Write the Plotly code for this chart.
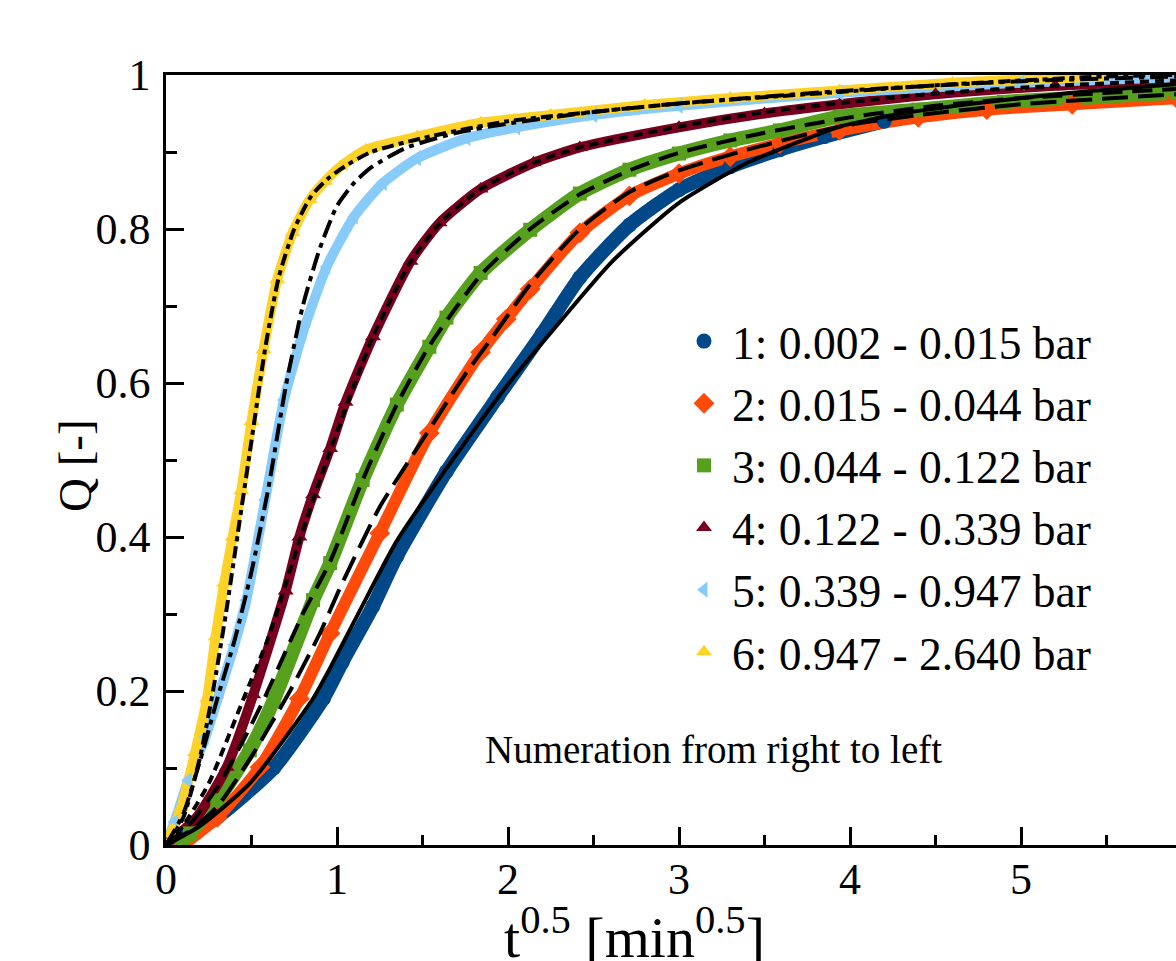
import plotly.graph_objects as go

# ---------------- data ----------------
labels = ["1: 0.002 - 0.015 bar", "2: 0.015 - 0.044 bar", "3: 0.044 - 0.122 bar",
          "4: 0.122 - 0.339 bar", "5: 0.339 - 0.947 bar", "6: 0.947 - 2.640 bar"]

# measured data, series 1..6
X1 = [0.00, 0.10, 0.30, 0.63, 0.92, 1.03, 1.21, 1.35, 1.64, 1.94, 2.20, 2.42, 2.71, 3.00, 3.30, 3.59, 3.85, 4.20]
Q1 = [0.000, 0.010, 0.036, 0.100, 0.190, 0.237, 0.310, 0.375, 0.485, 0.582, 0.664, 0.737, 0.805, 0.851, 0.881, 0.903, 0.920, 0.940]

X2 = [0.10, 0.30, 0.55, 0.78, 0.96, 1.25, 1.54, 1.84, 1.99, 2.13, 2.42, 2.71, 3.00, 3.30, 3.59, 3.94, 4.40, 4.80, 5.30, 5.91]
Q2 = [0.000, 0.036, 0.101, 0.190, 0.275, 0.405, 0.535, 0.640, 0.683, 0.722, 0.795, 0.843, 0.872, 0.894, 0.911, 0.928, 0.945, 0.955, 0.962, 0.970]

X3 = [0.10, 0.14, 0.30, 0.49, 0.63, 0.86, 0.96, 1.15, 1.35, 1.54, 1.64, 1.84, 2.13, 2.42, 2.71, 3.00, 3.30, 3.59, 3.94, 4.40, 4.90, 5.40, 5.91]
Q3 = [0.000, 0.015, 0.058, 0.123, 0.188, 0.318, 0.366, 0.474, 0.572, 0.647, 0.685, 0.743, 0.799, 0.846, 0.877, 0.898, 0.915, 0.928, 0.946, 0.955, 0.965, 0.971, 0.977]

X4 = [0.00, 0.18, 0.355, 0.51, 0.70, 0.78, 0.86, 0.96, 1.05, 1.21, 1.43, 1.60, 1.84, 2.15, 2.42, 3.00, 3.50, 3.94, 4.50, 5.20, 5.91]
Q4 = [0.000, 0.036, 0.101, 0.195, 0.330, 0.400, 0.455, 0.515, 0.575, 0.660, 0.758, 0.808, 0.852, 0.886, 0.906, 0.932, 0.950, 0.962, 0.975, 0.986, 0.993]

X5 = [0.00, 0.05, 0.13, 0.23, 0.316, 0.40, 0.47, 0.58, 0.69, 0.80, 0.94, 1.10, 1.27, 1.47, 1.76, 2.05, 2.50, 3.00, 3.94, 5.00, 5.91]
Q5 = [0.000, 0.030, 0.084, 0.140, 0.200, 0.260, 0.318, 0.448, 0.578, 0.665, 0.751, 0.816, 0.860, 0.892, 0.918, 0.932, 0.948, 0.960, 0.977, 0.990, 0.997]

X6 = [0.00, 0.04, 0.09, 0.17, 0.24, 0.29, 0.34, 0.39, 0.44, 0.50, 0.57, 0.65, 0.74, 0.84, 0.93, 1.02, 1.17, 1.47, 1.84, 2.25, 2.80, 3.30, 3.94, 4.60, 5.48]
Q6 = [0.000, 0.020, 0.049, 0.120, 0.190, 0.270, 0.340, 0.400, 0.460, 0.550, 0.643, 0.734, 0.795, 0.838, 0.862, 0.881, 0.903, 0.920, 0.938, 0.948, 0.961, 0.970, 0.980, 0.990, 0.998]

# model fits, series 1..6
XF1 = [0.00, 0.20, 0.49, 0.86, 0.96, 1.135, 1.35, 1.74, 2.00, 2.23, 2.61, 3.00, 3.40, 3.78, 3.94, 4.30, 4.80, 5.30, 5.91]
QF1 = [0.000, 0.025, 0.080, 0.190, 0.230, 0.305, 0.395, 0.520, 0.598, 0.660, 0.758, 0.834, 0.886, 0.920, 0.933, 0.950, 0.965, 0.977, 0.988]

XF2 = [0.00, 0.15, 0.30, 0.50, 0.725, 0.90, 1.02, 1.25, 1.50, 1.74, 1.91, 2.13, 2.42, 2.71, 3.00, 3.40, 3.94, 4.40, 5.00, 5.91]
QF2 = [0.000, 0.020, 0.050, 0.115, 0.200, 0.275, 0.335, 0.439, 0.526, 0.608, 0.660, 0.728, 0.800, 0.848, 0.876, 0.903, 0.933, 0.948, 0.962, 0.975]

XF3 = [0.00, 0.15, 0.30, 0.45, 0.57, 0.80, 0.96, 1.15, 1.35, 1.54, 1.84, 2.13, 2.42, 2.71, 3.00, 3.50, 4.00, 4.50, 5.00, 5.91]
QF3 = [0.000, 0.030, 0.075, 0.135, 0.188, 0.300, 0.368, 0.474, 0.572, 0.648, 0.740, 0.800, 0.845, 0.876, 0.899, 0.925, 0.945, 0.960, 0.970, 0.982]

XF4 = [0.00, 0.10, 0.25, 0.45, 0.60, 0.78, 0.96, 1.21, 1.43, 1.60, 1.84, 2.15, 2.42, 3.00, 3.50, 4.00, 4.50, 5.20, 5.91]
QF4 = [0.000, 0.025, 0.080, 0.188, 0.270, 0.395, 0.512, 0.660, 0.757, 0.807, 0.852, 0.886, 0.906, 0.933, 0.952, 0.965, 0.976, 0.986, 0.993]

XF5 = [0.00, 0.10, 0.20, 0.30, 0.40, 0.50, 0.60, 0.70, 0.80, 0.90, 1.00, 1.10, 1.20, 1.40, 1.70, 2.00, 2.50, 3.00, 4.00, 5.00, 5.91]
QF5 = [0.000, 0.040, 0.110, 0.190, 0.265, 0.355, 0.465, 0.595, 0.700, 0.775, 0.830, 0.860, 0.880, 0.905, 0.925, 0.937, 0.952, 0.963, 0.980, 0.992, 0.998]

XF6 = [0.00, 0.10, 0.20, 0.275, 0.35, 0.42, 0.50, 0.58, 0.66, 0.75, 0.85, 0.95, 1.05, 1.20, 1.50, 2.00, 2.50, 3.00, 3.94, 4.60, 5.48, 5.91]
QF6 = [0.000, 0.035, 0.115, 0.200, 0.300, 0.405, 0.525, 0.645, 0.738, 0.800, 0.843, 0.866, 0.882, 0.900, 0.918, 0.940, 0.952, 0.963, 0.978, 0.988, 0.998, 1.000]

x_ticks = [0, 1, 2, 3, 4, 5]
x_ticktext = ["0", "1", "2", "3", "4", "5"]
y_ticks = [0, 0.2, 0.4, 0.6, 0.8, 1.0]
y_ticktext = ["0", "0.2", "0.4", "0.6", "0.8", "1"]

# ---------------- style ----------------
colors = ["#004887", "#FF4A0A", "#57A01E", "#78001E", "#87CBFA", "#FFD228"]
symbols = ["circle", "diamond", "square", "triangle-up", "triangle-left", "triangle-up"]
band_w = [14, 12, 14, 10, 10, 10]
marker_size = [15, 16, 14, 14, 14, 14]
fit_dash = ["solid", "26px,10px", "20px,10px", "9px,6px", "18px,6px,5px,6px", "12px,5px,5px,5px"]
FONT = "Liberation Serif"

data = [(X1, Q1), (X2, Q2), (X3, Q3), (X4, Q4), (X5, Q5), (X6, Q6)]
fits = [(XF1, QF1), (XF2, QF2), (XF3, QF3), (XF4, QF4), (XF5, QF5), (XF6, QF6)]

fig = go.Figure()

# dense measurement bands
for (xs, ys), c, w in zip(data, colors, band_w):
    fig.add_trace(go.Scatter(x=xs, y=ys, mode="lines", line=dict(color=c, width=w, shape="spline", smoothing=0.6),
                             showlegend=False, hoverinfo="skip"))
# measurement markers (legend entries)
for (xs, ys), c, s, lab, ms in zip(data, colors, symbols, labels, marker_size):
    fig.add_trace(go.Scatter(x=xs, y=ys, mode="markers", name=lab,
                             marker=dict(symbol=s, color=c, size=ms, line=dict(width=0))))
# model fits
for (xs, ys), d in zip(fits, fit_dash):
    fig.add_trace(go.Scatter(x=xs, y=ys, mode="lines", showlegend=False, hoverinfo="skip",
                             line=dict(color="black", width=4, dash=d, shape="spline", smoothing=0.6)))

W, H = 1176, 961
L, R, T, B = 166, 0, 75, 116
pw = W - L - R
ph = H - T - B

def px_x(p):
    return (p - L) / pw

def px_y(p):
    return (H - B - p) / ph

fig.update_layout(
    width=W, height=H,
    margin=dict(l=L, r=R, t=T, b=B),
    paper_bgcolor="white", plot_bgcolor="white",
    font=dict(family=FONT, size=44, color="black"),
    showlegend=True,
    legend=dict(x=px_x(676), y=px_y(305), xanchor="left", yanchor="top",
                font=dict(family=FONT, size=45.5, color="black"),
                bgcolor="rgba(0,0,0,0)", borderwidth=0, traceorder="normal",
                itemwidth=46),
    xaxis=dict(range=[0, (W - L) / 171.0], tickvals=x_ticks, ticktext=x_ticktext,
               showgrid=False, zeroline=False, showline=True, linecolor="black", linewidth=2.5,
               mirror=True, ticks="inside", ticklen=18, tickwidth=2.5, tickcolor="black",
               ticklabelstandoff=-7,
               minor=dict(dtick=0.5, tick0=0, ticks="inside", ticklen=10, tickwidth=2.5, tickcolor="black",
                          showgrid=False),
               tickfont=dict(family=FONT, size=44)),
    yaxis=dict(range=[0, 1], tickvals=y_ticks, ticktext=y_ticktext,
               showgrid=False, zeroline=False, showline=True, linecolor="black", linewidth=2.5,
               mirror=False, ticks="inside", ticklen=18, tickwidth=2.5, tickcolor="black",
               ticklabelstandoff=4,
               minor=dict(dtick=0.1, tick0=0, ticks="inside", ticklen=11, tickwidth=2.5, tickcolor="black",
                          showgrid=False),
               tickfont=dict(family=FONT, size=44)),
    annotations=[
        dict(text="Q [-]", x=px_x(75), y=px_y(466), xref="paper", yref="paper", showarrow=False,
             textangle=-90, font=dict(family=FONT, size=47), xanchor="center", yanchor="middle"),
        dict(text="t<sup>0.5</sup> [min<sup>0.5</sup>]", x=px_x(634), y=px_y(933), xref="paper", yref="paper",
             showarrow=False, font=dict(family=FONT, size=58), xanchor="center", yanchor="middle"),
        dict(text="Numeration from right to left", x=px_x(713), y=px_y(750), xref="paper", yref="paper",
             showarrow=False, font=dict(family=FONT, size=39), xanchor="center", yanchor="middle"),
    ],
)

fig.write_html("out.html")
